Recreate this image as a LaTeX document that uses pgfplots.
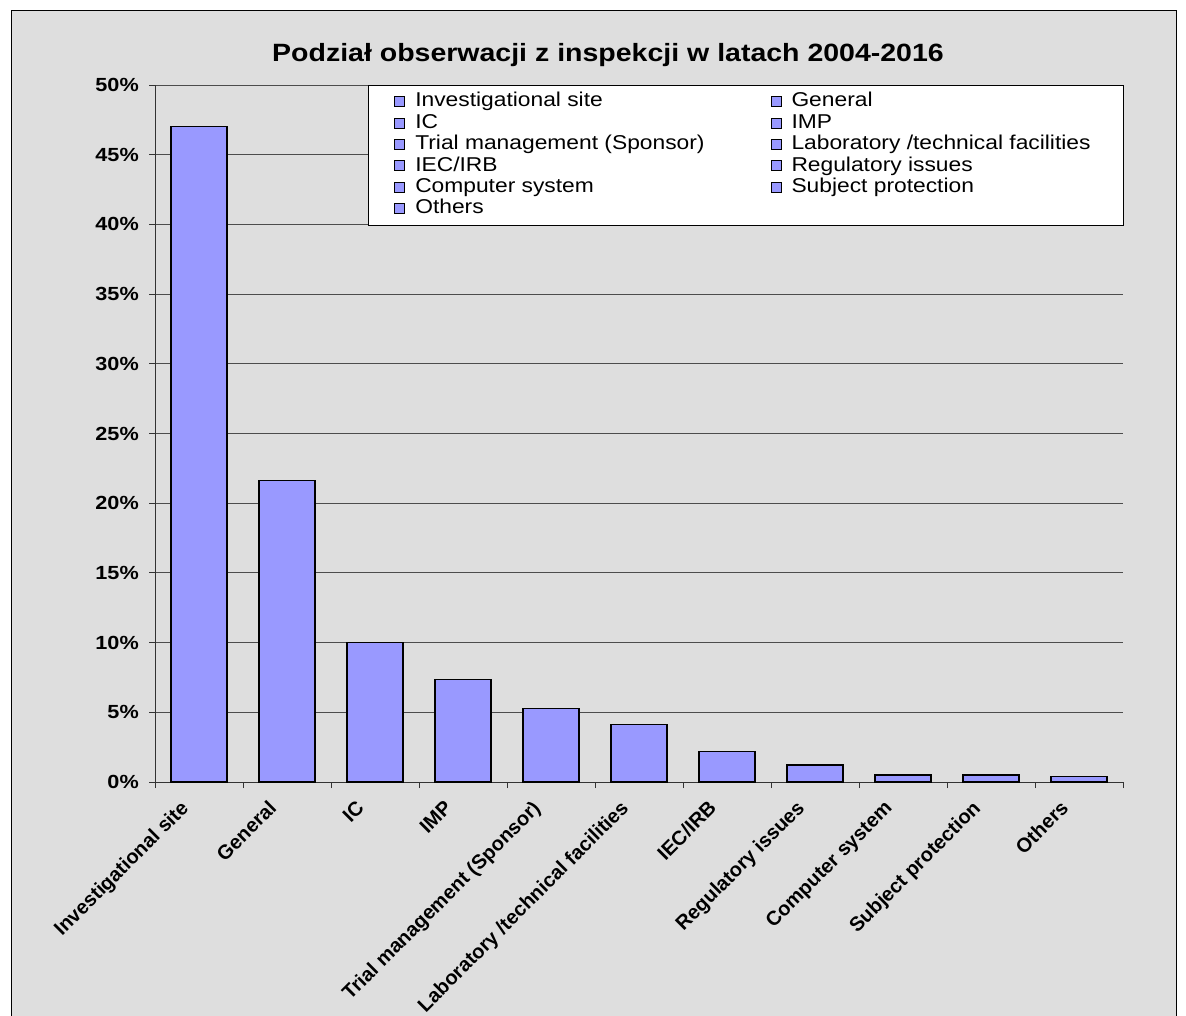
\documentclass[border=0pt]{standalone}
\usepackage{fontspec}
\setmainfont{Liberation Sans}
\usepackage{graphicx}
\usepackage{pgfplots}
\pgfplotsset{compat=1.18}
\definecolor{barblue}{RGB}{153,153,255}
\definecolor{bg}{RGB}{222,222,222}
\newcommand{\sx}[1]{\scalebox{1.14}[1]{#1}}
\pgfplotsset{mylegend/.style={legend image code/.code={\draw[fill=barblue,draw=black,line width=0.9pt] (0pt,-5pt) rectangle (10pt,5pt);}}}
\begin{document}
\begin{tikzpicture}
\path[use as bounding box] (0pt,0pt) rectangle (1186pt,-1016pt);
\fill[bg] (11pt,-11pt) rectangle (1176pt,-1016pt);
\draw[black, line width=1pt] (11pt,-1016pt) -- (11pt,-11pt) -- (1176pt,-11pt) -- (1176pt,-1016pt);
\begin{axis}[
  at={(155pt,-782pt)}, anchor=south west,
  scale only axis, width=968pt, height=697pt,
  ybar, bar width=56pt, bar shift=0pt,
  xmin=-0.5, xmax=10.5, ymin=0, ymax=50,
  axis x line*=bottom, axis y line*=left,
  axis line style={black!80, line width=1pt, -},
  tick style={black!80, line width=1pt},
  tick align=outside, major tick length=6pt,
  ytick={0,5,...,50},
  /pgf/number format/assume math mode=true,
  yticklabel={\sx{\pgfmathprintnumber{\tick}\%}},
  yticklabel style={font=\bfseries\fontsize{19}{19}\selectfont, inner sep=0pt, xshift=-10pt},
  xtick={-0.5,0.5,...,10.5}, xticklabels={},
  extra x ticks={0,1,2,3,4,5,6,7,8,9,10},
  extra x tick labels={Investigational site, General, IC, IMP, Trial management (Sponsor), Laboratory /technical facilities, IEC/IRB, Regulatory issues, Computer system, Subject protection, Others},
  extra x tick style={major tick length=0pt, xticklabel style={rotate=45, anchor=north east, font=\bfseries\fontsize{20}{20}\selectfont, inner sep=0pt, xshift=-26pt, yshift=2pt}},
  ymajorgrids, grid style={black!70, line width=1pt},
  legend columns=2, legend cell align=left,
  legend style={at={(0.22,1)}, anchor=north west, fill=white, draw=black, line width=0.8pt,
    font=\fontsize{20}{21}\selectfont, inner xsep=26pt, inner ysep=6pt,
    nodes={inner sep=0pt, text height=15.5pt, text depth=5pt},
    row sep=0.9pt,
    /tikz/every odd column/.append style={column sep=10pt},
    /tikz/every even column/.append style={column sep=66pt}},
]
\addplot[fill=barblue, draw=black, line width=1.2pt, mylegend] coordinates {
 (0,47.05) (1,21.65) (2,10.02) (3,7.34) (4,5.30) (5,4.10) (6,2.18) (7,1.22) (8,0.50) (9,0.50) (10,0.41)};
\addlegendentry{\sx{Investigational site}}
\addlegendimage{mylegend}\addlegendentry{\sx{General}}
\addlegendimage{mylegend}\addlegendentry{\sx{IC}}
\addlegendimage{mylegend}\addlegendentry{\sx{IMP}}
\addlegendimage{mylegend}\addlegendentry{\sx{Trial management (Sponsor)}}
\addlegendimage{mylegend}\addlegendentry{\sx{Laboratory /technical facilities}\rule{7pt}{0pt}}
\addlegendimage{mylegend}\addlegendentry{\sx{IEC/IRB}}
\addlegendimage{mylegend}\addlegendentry{\sx{Regulatory issues}}
\addlegendimage{mylegend}\addlegendentry{\sx{Computer system}}
\addlegendimage{mylegend}\addlegendentry{\sx{Subject protection}}
\addlegendimage{mylegend}\addlegendentry{\sx{Others}}
\end{axis}
\node[font=\bfseries\fontsize{25}{25}\selectfont] at (608pt,-55pt) {\sx{Podział obserwacji z inspekcji w latach 2004-2016}};
\end{tikzpicture}
\end{document}
